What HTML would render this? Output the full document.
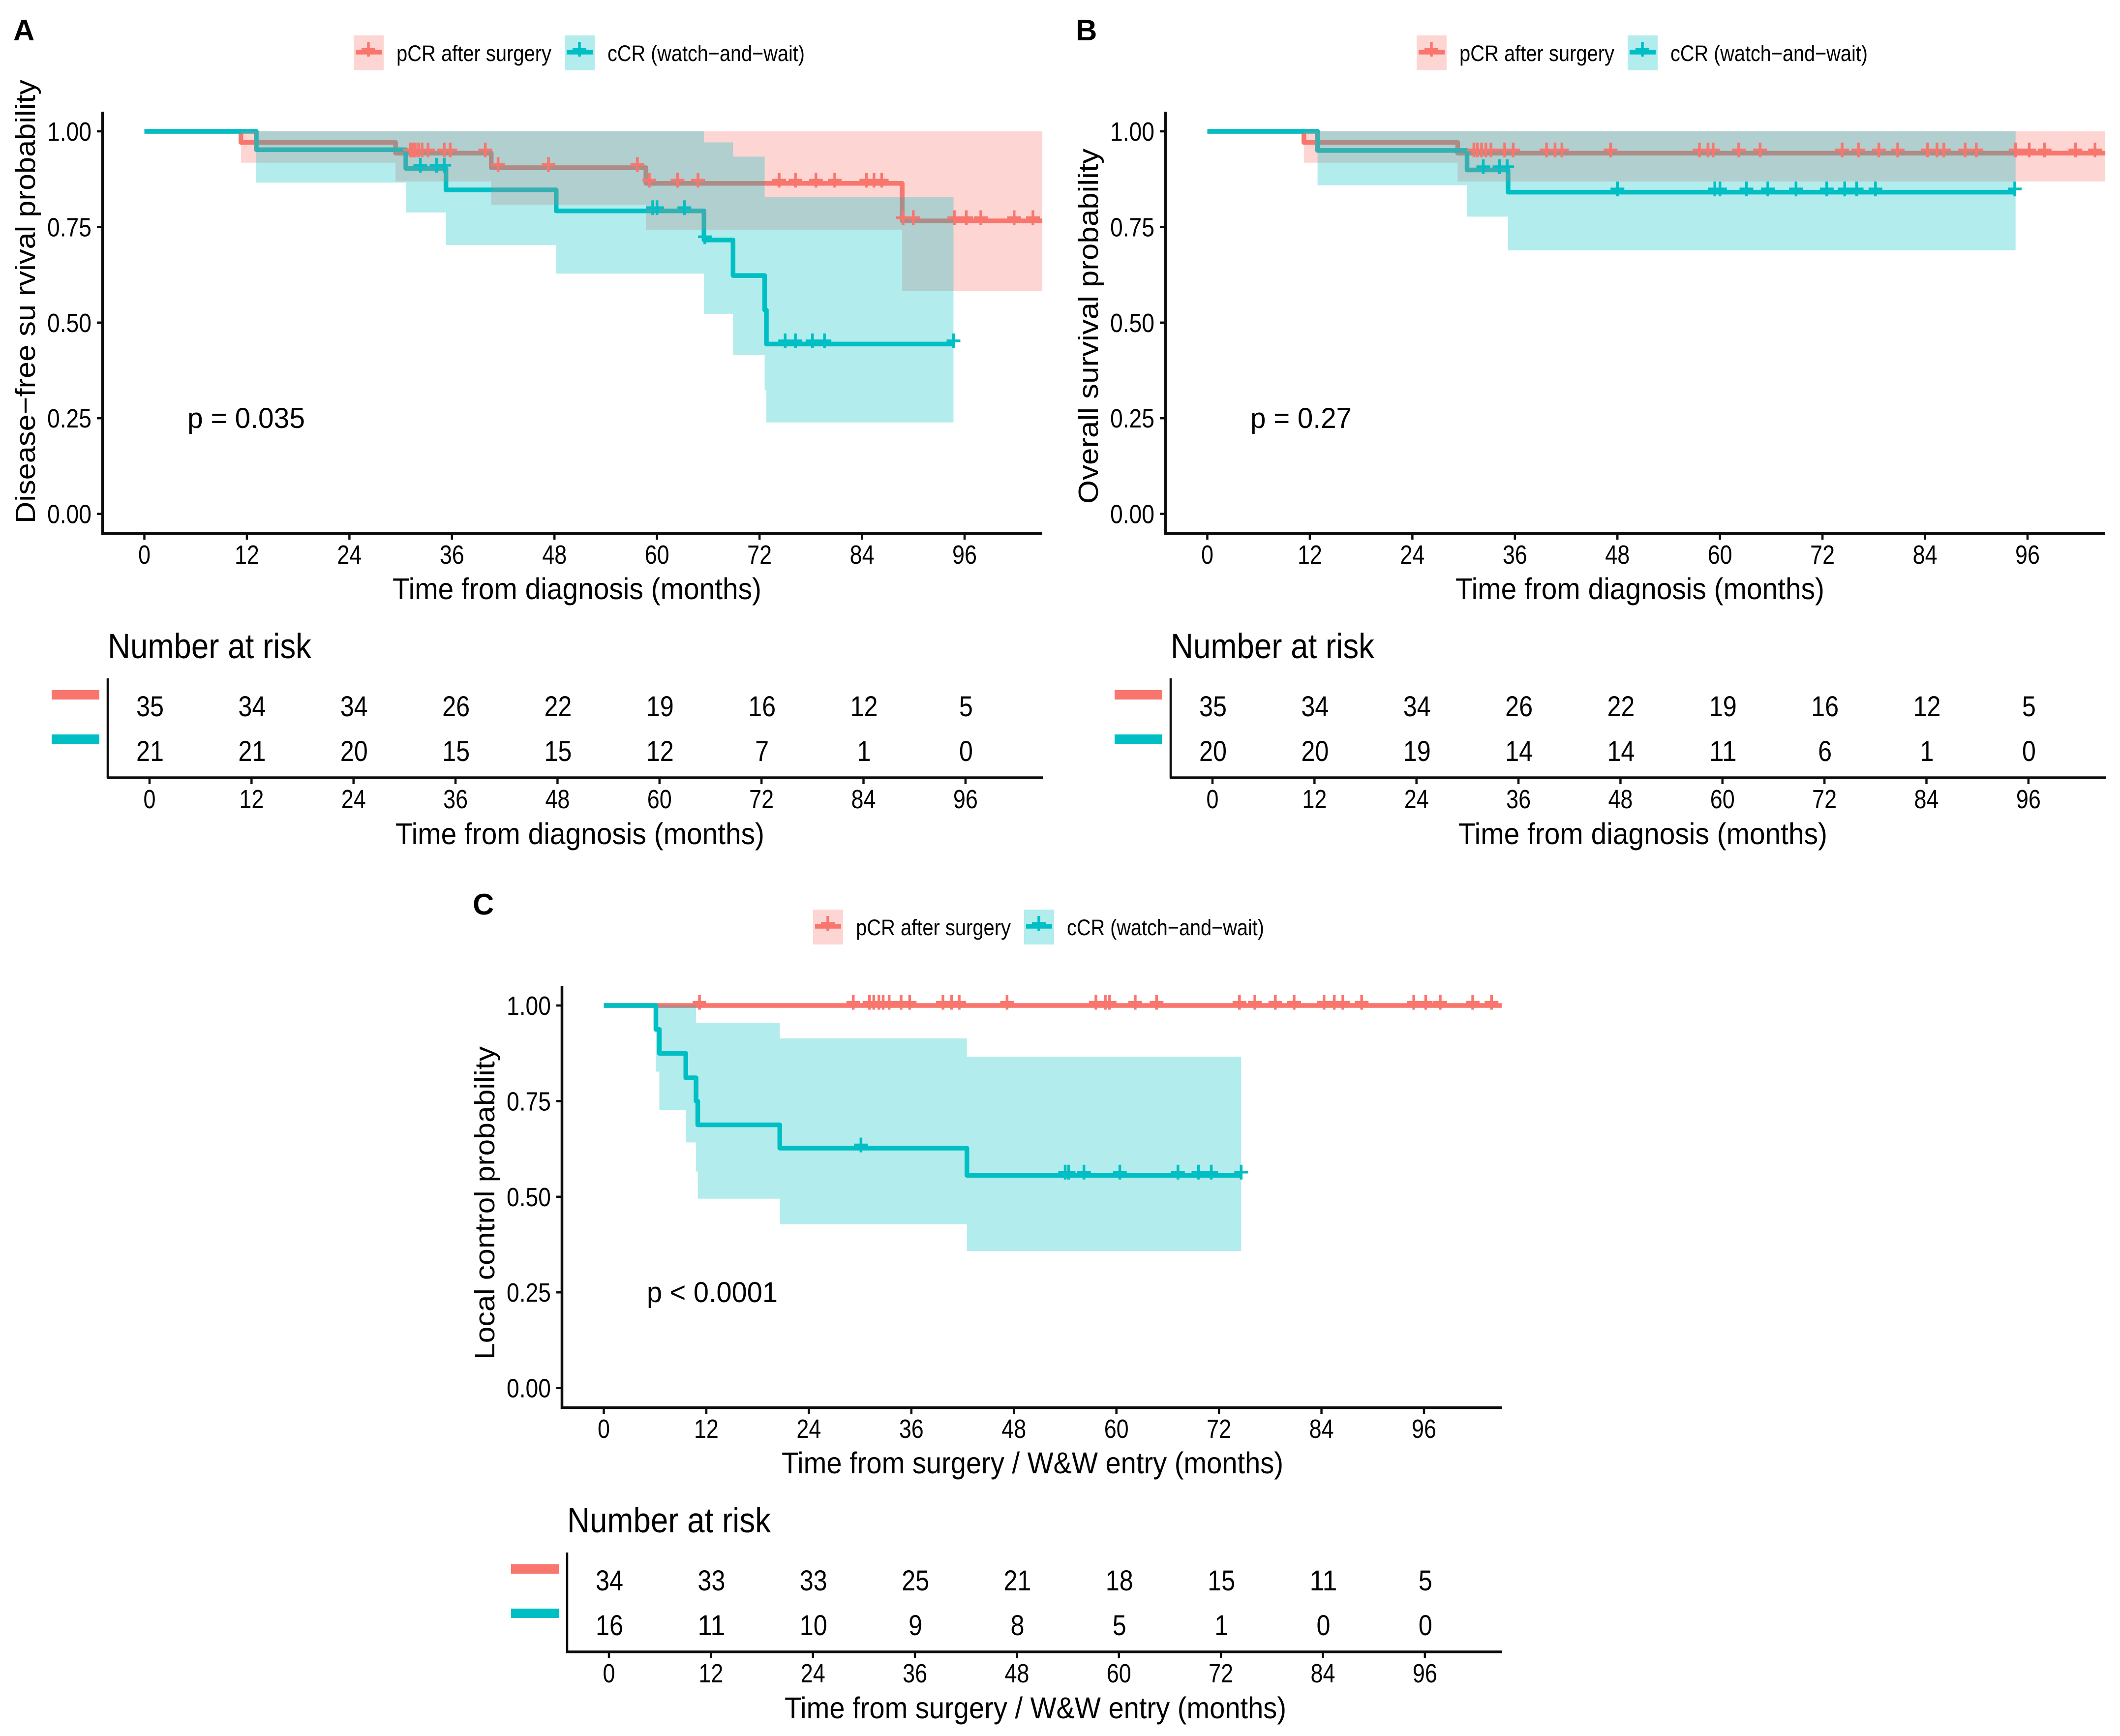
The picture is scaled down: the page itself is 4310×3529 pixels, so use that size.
<!DOCTYPE html>
<html lang="en">
<head>
<meta charset="utf-8">
<title>Kaplan-Meier curves: pCR after surgery vs cCR (watch-and-wait)</title>
<style>
html,body{margin:0;padding:0;background:#fff}
svg{display:block}
text{font-family:"Liberation Sans",sans-serif;fill:#000}
</style>
</head>
<body>
<svg id="figure" xmlns="http://www.w3.org/2000/svg" width="4310" height="3529" viewBox="0 0 4310 3529"></svg>
<script>
// ---------- shared categories ----------
const seriesNames = ["pCR after surgery", "cCR (watch\u2212and\u2212wait)"];
const xTickValues = [0, 12, 24, 36, 48, 60, 72, 84, 96];
const yTickValues = [0, 0.25, 0.5, 0.75, 1];
const yTickLabels = ["0.00", "0.25", "0.50", "0.75", "1.00"];

// ---------- panel A ----------
const aPcrTimes = [0, 11.3, 29.4, 40.6, 58.7, 88.7, 105.1];
const aPcrSurv = [1, 0.971, 0.943, 0.905, 0.864, 0.766];
const aPcrLower = [1, 0.918, 0.869, 0.808, 0.743, 0.582];
const aPcrUpper = [1, 1, 1, 1, 1, 1];
const aPcrCensor = [31.1, 31.4, 31.7, 32.1, 32.5, 33.2, 35.1, 35.8, 39.9, 41.4, 47.3, 57.7, 59.1, 62.4, 64.8, 74.3, 76.2, 78.6, 80.8, 84.5, 85.4, 86.3, 88.8, 90, 94.8, 96.2, 97.9, 101.8, 104];
const aCcrTimes = [0, 13.1, 30.6, 35.3, 48.2, 65.5, 68.9, 72.6, 72.8, 94.7];
const aCcrSurv = [1, 0.952, 0.903, 0.847, 0.792, 0.716, 0.623, 0.533, 0.444];
const aCcrLower = [1, 0.866, 0.788, 0.703, 0.628, 0.523, 0.415, 0.323, 0.239];
const aCcrUpper = [1, 1, 1, 1, 1, 0.971, 0.934, 0.828, 0.828];
const aCcrCensor = [32.3, 34.2, 35.1, 59.5, 60, 63.2, 65.6, 75, 76.2, 78.2, 79.6, 94.7];
const aRiskPcr = [35, 34, 34, 26, 22, 19, 16, 12, 5];
const aRiskCcr = [21, 21, 20, 15, 15, 12, 7, 1, 0];

// ---------- panel B ----------
const bPcrTimes = [0, 11.3, 29.3, 105.1];
const bPcrSurv = [1, 0.971, 0.943];
const bPcrLower = [1, 0.918, 0.869];
const bPcrUpper = [1, 1, 1];
const bPcrCensor = [31.2, 31.6, 32.1, 32.6, 33.2, 34.8, 35.8, 39.7, 40.7, 41.5, 47.2, 57.6, 58.6, 59.2, 62.2, 64.7, 74.3, 76.2, 78.6, 80.8, 84.3, 85.4, 86.2, 88.7, 90, 94.6, 96.2, 98, 101.6, 103.9];
const bCcrTimes = [0, 12.9, 30.4, 35.2, 94.6];
const bCcrSurv = [1, 0.95, 0.899, 0.841];
const bCcrLower = [1, 0.859, 0.777, 0.689];
const bCcrUpper = [1, 1, 1, 1];
const bCcrCensor = [32.3, 34.2, 35.1, 48, 59.4, 60, 63.1, 65.6, 68.9, 72.5, 74.6, 76, 78.2, 94.5];
const bRiskPcr = [35, 34, 34, 26, 22, 19, 16, 12, 5];
const bRiskCcr = [20, 20, 19, 14, 14, 11, 6, 1, 0];

// ---------- panel C ----------
const cPcrTimes = [0, 105.1];
const cPcrSurv = [1];
const cPcrLower = [1];
const cPcrUpper = [1];
const cPcrCensor = [11.2, 29.2, 31.1, 31.6, 32.2, 32.7, 33.4, 34.8, 35.8, 39.7, 40.7, 41.6, 47.2, 57.6, 58.7, 59.2, 62.2, 64.7, 74.4, 76.2, 78.6, 80.8, 84.3, 85.5, 86.5, 88.7, 94.8, 96.2, 97.9, 101.7, 103.9];
const cCcrTimes = [0, 6.1, 6.5, 9.6, 10.8, 11, 20.6, 42.5, 74.6];
const cCcrSurv = [1, 0.9375, 0.875, 0.811, 0.75, 0.688, 0.627, 0.556];
const cCcrLower = [1, 0.827, 0.727, 0.642, 0.566, 0.495, 0.428, 0.358];
const cCcrUpper = [1, 1, 1, 1, 0.955, 0.955, 0.914, 0.866];
const cCcrCensor = [30.1, 54, 54.4, 56.2, 60.4, 67.2, 69.6, 71.1, 74.6];
const cRiskPcr = [34, 33, 33, 25, 21, 18, 15, 11, 5];
const cRiskCcr = [16, 11, 10, 9, 8, 5, 1, 0, 0];

// ---------- axis functions ----------
function xScale(m) { return 293.5 + 17.37 * m; }
function yScale(v) { return 1044.6 - 777.6 * v; }
function riskX(m) { return 304 + 17.28 * m; }

const SVGNS = "http://www.w3.org/2000/svg";
const PCR = "#F8766D";
const CCR = "#00BFC4";
const AXIS = "#0c0c0c";

function mk(tag, parent, attrs) {
  const el = document.createElementNS(SVGNS, tag);
  for (const k in attrs) el.setAttribute(k, attrs[k]);
  parent.appendChild(el);
  return el;
}

function label(parent, str, x, y, size, anchor, len, name, opts) {
  const a = { x: x, y: y, "font-size": size, "text-anchor": anchor };
  if (len) { a.textLength = len; a.lengthAdjust = "spacingAndGlyphs"; }
  if (opts && opts.rotate) { a.transform = "rotate(-90 " + x + " " + y + ")"; }
  if (opts && opts.bold) { a["font-weight"] = "bold"; }
  const el = mk("text", parent, a);
  
  
  el.textContent = str;
  return el;
}

function stepPath(times, values) {
  let d = "M" + xScale(times[0]) + " " + yScale(values[0]);
  for (let i = 0; i < values.length; i++) {
    d += "L" + xScale(times[i]) + " " + yScale(values[i]);
    d += "L" + xScale(times[i + 1]) + " " + yScale(values[i]);
  }
  return d;
}

function ribbonPath(times, upper, lower) {
  let d = "M" + xScale(times[0]) + " " + yScale(upper[0]);
  for (let i = 0; i < upper.length; i++) {
    d += "L" + xScale(times[i]) + " " + yScale(upper[i]);
    d += "L" + xScale(times[i + 1]) + " " + yScale(upper[i]);
  }
  for (let i = lower.length - 1; i >= 0; i--) {
    d += "L" + xScale(times[i + 1]) + " " + yScale(lower[i]);
    d += "L" + xScale(times[i]) + " " + yScale(lower[i]);
  }
  return d + "Z";
}

function survAt(times, values, t) {
  let v = values[0];
  for (let i = 0; i < values.length; i++) { if (t >= times[i]) v = values[i]; }
  return v;
}

function crossPath(cx, cy) {
  return "M" + (cx - 14) + " " + cy + "H" + (cx + 14) + "M" + cx + " " + (cy - 15) + "V" + (cy + 15);
}

function drawLine(g, times, values, color, name) {
  const el = mk("path", g, { d: stepPath(times, values), fill: "none", stroke: color, "stroke-width": 9.5, "stroke-linejoin": "round" });
  
  
}

function drawRibbon(g, times, upper, lower, color, name) {
  const el = mk("path", g, { d: ribbonPath(times, upper, lower), fill: color, "fill-opacity": 0.3 });
  
  
}

function drawCensors(g, times, values, censors, color, name) {
  let d = "";
  censors.forEach(function (t) {
    d += crossPath(xScale(t), yScale(survAt(times, values, t)) - 6.5);
  });
  const el = mk("path", g, { d: d, fill: "none", stroke: color, "stroke-width": 5.5 });
  
  
}

function drawLegendKey(g, keyX, color, name) {
  const key = mk("g", g, {});
  
  
  mk("rect", key, { x: keyX, y: 72, width: 61, height: 71, fill: color, "fill-opacity": 0.3 });
  mk("path", key, { d: "M" + (keyX + 4) + " 106H" + (keyX + 57), stroke: color, "stroke-width": 9.5, fill: "none" });
  mk("path", key, { d: crossPath(keyX + 30, 100), stroke: color, "stroke-width": 5.5, fill: "none" });
}

function drawPanel(p) {
  const g = mk("g", document.getElementById("figure"), { transform: "translate(" + p.dx + " " + p.dy + ")" });
  
  

  label(g, p.letter, p.letterX, 82, 60, "start", 0, "panel-letter", { bold: true });

  // legend
  const legend = mk("g", g, {});
  
  
  drawLegendKey(legend, 719, PCR, "legend-key-pcr");
  label(legend, seriesNames[0], 806, 124, 45, "start", 315, "legend-label-pcr");
  drawLegendKey(legend, 1148, CCR, "legend-key-ccr");
  label(legend, seriesNames[1], 1235, 124, 45, "start", 401, "legend-label-ccr");

  // series: lines underneath, ribbons over them, censor marks on top
  drawLine(g, p.pcr.times, p.pcr.surv, PCR, "survival-line-pcr");
  drawLine(g, p.ccr.times, p.ccr.surv, CCR, "survival-line-ccr");
  drawRibbon(g, p.pcr.times, p.pcr.upper, p.pcr.lower, PCR, "confidence-band-pcr");
  drawRibbon(g, p.ccr.times, p.ccr.upper, p.ccr.lower, CCR, "confidence-band-ccr");
  drawCensors(g, p.pcr.times, p.pcr.surv, p.pcr.censor, PCR, "censor-marks-pcr");
  drawCensors(g, p.ccr.times, p.ccr.surv, p.ccr.censor, CCR, "censor-marks-ccr");

  // main axes
  const yAxis = mk("path", g, { d: "M208.5 227V1087", stroke: AXIS, "stroke-width": 5.5, fill: "none" });
  
  
  const xAxis = mk("path", g, { d: "M206 1084.5H2119", stroke: AXIS, "stroke-width": 5.5, fill: "none" });
  
  

  yTickValues.forEach(function (v, i) {
    const t = mk("path", g, { d: "M197 " + yScale(v) + "H206", stroke: AXIS, "stroke-width": 4.5 });
    
    
    label(g, yTickLabels[i], 186, yScale(v) + 19, 54, "end", 90, "y-tick-label");
  });
  xTickValues.forEach(function (m) {
    const t = mk("path", g, { d: "M" + xScale(m) + " 1087V1097", stroke: AXIS, "stroke-width": 4.5 });
    
    
    const s = String(m);
    label(g, s, xScale(m), 1146, 54, "middle", s.length * 25, "x-tick-label");
  });

  label(g, p.xTitle, p.xTitleX, 1218, 61, "middle", p.xTitleLen, "x-axis-title");
  label(g, p.yTitle, 71, p.yTitleBottom, 57, "start", p.yTitleLen, "y-axis-title", { rotate: true });
  label(g, p.pText, 381, 870, 58, "start", p.pLen, "p-value-label");

  // risk table
  const risk = mk("g", g, {});
  
  
  label(risk, "Number at risk", 219, 1338, 71, "start", 414, "risk-table-title");
  const swatchP = mk("rect", risk, { x: 105, y: 1403, width: 97, height: 19, fill: PCR });
  
  
  const swatchC = mk("rect", risk, { x: 105, y: 1493, width: 97, height: 19, fill: CCR });
  
  
  const riskY = mk("path", risk, { d: "M219 1379V1582", stroke: AXIS, "stroke-width": 4.5, fill: "none" });
  
  
  const riskXLine = mk("path", risk, { d: "M217 1581H2120", stroke: AXIS, "stroke-width": 5.5, fill: "none" });
  
  
  xTickValues.forEach(function (m, i) {
    const t = mk("path", risk, { d: "M" + riskX(m) + " 1583V1594", stroke: AXIS, "stroke-width": 4.5 });
    
    
    const s = String(m);
    label(risk, s, riskX(m), 1643, 54, "middle", s.length * 25, "risk-x-tick-label");
    const a = String(p.riskPcr[i]);
    label(risk, a, riskX(m) + 1, 1456, 58, "middle", a.length * 28, "risk-count-pcr");
    const b = String(p.riskCcr[i]);
    label(risk, b, riskX(m) + 1, 1547, 58, "middle", b.length * 28, "risk-count-ccr");
  });
  label(risk, p.xTitle, p.riskTitleX, 1716, 61, "middle", p.xTitleLen, "risk-x-axis-title");
}

const xTitleDiagnosis = "Time from diagnosis (months)";
const xTitleEntry = "Time from surgery / W&W entry (months)";

drawPanel({
  name: "panel-a", letter: "A", letterX: 27, dx: 0, dy: 0,
  xTitle: xTitleDiagnosis, xTitleX: 1173, xTitleLen: 750, riskTitleX: 1179,
  yTitle: "Disease\u2212free su rvival probability", yTitleBottom: 1064, yTitleLen: 902,
  pText: "p = 0.035", pLen: 239,
  pcr: { times: aPcrTimes, surv: aPcrSurv, lower: aPcrLower, upper: aPcrUpper, censor: aPcrCensor },
  ccr: { times: aCcrTimes, surv: aCcrSurv, lower: aCcrLower, upper: aCcrUpper, censor: aCcrCensor },
  riskPcr: aRiskPcr, riskCcr: aRiskCcr
});
drawPanel({
  name: "panel-b", letter: "B", letterX: 26, dx: 2161, dy: 0,
  xTitle: xTitleDiagnosis, xTitleX: 1173, xTitleLen: 750, riskTitleX: 1179,
  yTitle: "Overall survival probability", yTitleBottom: 1024, yTitleLen: 722,
  pText: "p = 0.27", pLen: 206,
  pcr: { times: bPcrTimes, surv: bPcrSurv, lower: bPcrLower, upper: bPcrUpper, censor: bPcrCensor },
  ccr: { times: bCcrTimes, surv: bCcrSurv, lower: bCcrLower, upper: bCcrUpper, censor: bCcrCensor },
  riskPcr: bRiskPcr, riskCcr: bRiskCcr
});
drawPanel({
  name: "panel-c", letter: "C", letterX: 27, dx: 934, dy: 1777,
  xTitle: xTitleEntry, xTitleX: 1165, xTitleLen: 1020, riskTitleX: 1171,
  yTitle: "Local control probability", yTitleBottom: 987, yTitleLen: 637,
  pText: "p < 0.0001", pLen: 266,
  pcr: { times: cPcrTimes, surv: cPcrSurv, lower: cPcrLower, upper: cPcrUpper, censor: cPcrCensor },
  ccr: { times: cCcrTimes, surv: cCcrSurv, lower: cCcrLower, upper: cCcrUpper, censor: cCcrCensor },
  riskPcr: cRiskPcr, riskCcr: cRiskCcr
});
</script>
</body>
</html>
